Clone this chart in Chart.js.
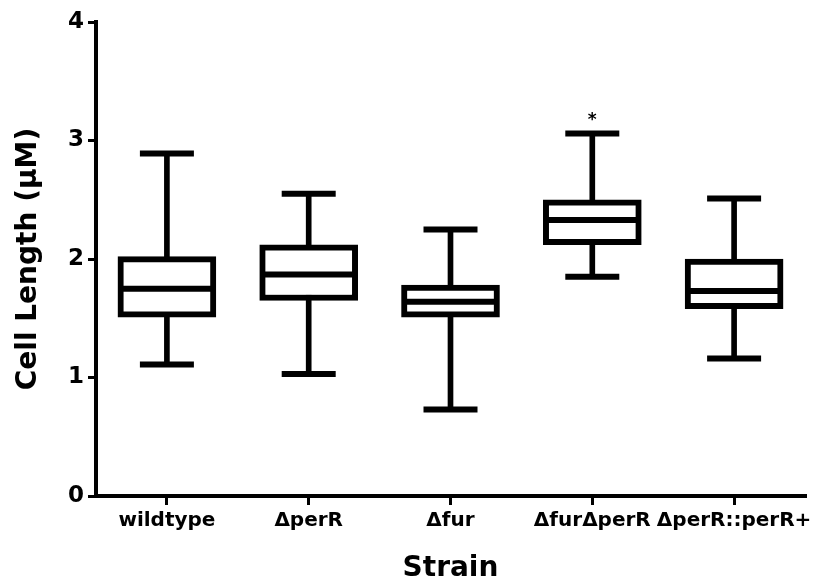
<!DOCTYPE html>
<html>
<head>
<meta charset="utf-8">
<script src="https://cdn.jsdelivr.net/npm/chart.js@4.4.1/dist/chart.umd.min.js"></script>
<style>
  html, body { margin: 0; padding: 0; background: #fff; }
  #wrap { width: 834px; height: 583px; }
</style>
</head>
<body>
<div id="wrap"><canvas id="boxChart" width="834" height="583"></canvas></div>
<script>
const strains = ["wildtype", "\u0394perR", "\u0394fur", "\u0394fur\u0394perR", "\u0394perR::perR+"];
const mins    = [1.11, 1.03, 0.73, 1.85, 1.16];
const q1s     = [1.51, 1.65, 1.51, 2.12, 1.58];
const medians = [1.75, 1.87, 1.64, 2.33, 1.73];
const q3s     = [2.02, 2.12, 1.78, 2.50, 2.00];
const maxs    = [2.89, 2.55, 2.25, 3.06, 2.51];
const sigLabels = ["", "", "", "*", ""];
const yTicks = [0, 1, 2, 3, 4];

const boldFont = "'DejaVu Sans', sans-serif";

const whiskers = strains.map((s, i) => [mins[i], maxs[i]]);
const boxes = strains.map((s, i) => [q1s[i], q3s[i]]);

// asterisk over the whisker cap
const sigPlugin = {
  id: "sig",
  afterDatasetsDraw(chart) {
    const ctx = chart.ctx;
    const x = chart.scales.x, y = chart.scales.y;
    ctx.save();
    ctx.fillStyle = "#000";
    ctx.font = "bold 17px " + boldFont;
    ctx.textAlign = "center";
    ctx.textBaseline = "bottom";
    sigLabels.forEach((t, i) => {
      if (!t) return;
      ctx.fillText(t, x.getPixelForValue(i), y.getPixelForValue(maxs[i]) - 4);
    });
    ctx.restore();
  }
};

const capStyle = {
  type: "line",
  showLine: false,
  pointStyle: "line",
  pointRadius: 27,
  pointHoverRadius: 27,
  pointBorderWidth: 6,
  pointBorderColor: "#000",
  borderColor: "#000",
  clip: false,
  order: 1
};

function noPad(scale) {
  scale.paddingLeft = 0;
  scale.paddingRight = 0;
  scale.paddingTop = 0;
  scale.paddingBottom = 0;
}

new Chart(document.getElementById("boxChart"), {
  type: "bar",
  data: {
    labels: strains,
    datasets: [
      {
        label: "whisker",
        data: whiskers,
        backgroundColor: "#000",
        barThickness: 5,
        grouped: false,
        order: 3
      },
      {
        label: "box",
        data: boxes,
        backgroundColor: "#fff",
        borderColor: "#000",
        borderWidth: 6,
        borderSkipped: false,
        barThickness: 98,
        grouped: false,
        order: 2
      },
      Object.assign({ label: "max", data: maxs }, capStyle),
      Object.assign({ label: "min", data: mins }, capStyle),
      Object.assign({ label: "median", data: medians }, capStyle, { pointRadius: 46, pointHoverRadius: 46 })
    ]
  },
  options: {
    responsive: false,
    animation: false,
    events: [],
    layout: { autoPadding: false, padding: { top: 22, right: 29, left: 0, bottom: 0 } },
    plugins: {
      legend: { display: false },
      tooltip: { enabled: false }
    },
    scales: {
      x: {
        offset: true,
        grid: { display: true, offset: false, drawOnChartArea: false, drawTicks: true, tickLength: 9, lineWidth: 3, color: "#000" },
        border: { display: true, width: 4, color: "#000" },
        ticks: { color: "#000", font: { family: boldFont, weight: "bold", size: 20 }, padding: 4, maxRotation: 0, autoSkip: false },
        title: { display: true, text: "Strain", color: "#000", font: { family: boldFont, weight: "bold", size: 28, lineHeight: 1.0 }, padding: { top: 0, bottom: 0 } },
        afterFit(scale) { scale.height = 87; noPad(scale); }
      },
      y: {
        min: 0,
        max: 4,
        afterBuildTicks(scale) { scale.ticks = yTicks.map(v => ({ value: v })); },
        grid: { display: true, drawOnChartArea: false, drawTicks: true, tickLength: 8, lineWidth: 3, color: "#000" },
        border: { display: true, width: 4, color: "#000" },
        ticks: { color: "#000", font: { family: boldFont, weight: "bold", size: 23 }, padding: 4 },
        title: { display: true, text: "Cell Length (\u03bcM)", color: "#000", font: { family: boldFont, weight: "bold", size: 28 }, padding: { top: 12, bottom: 0 } },
        afterFit(scale) { scale.width = 96; noPad(scale); }
      }
    }
  },
  plugins: [sigPlugin]
});
</script>
</body>
</html>
